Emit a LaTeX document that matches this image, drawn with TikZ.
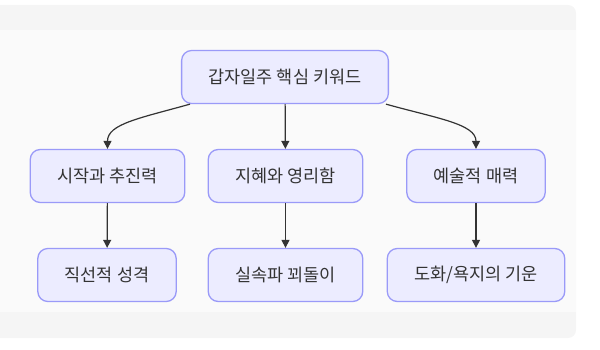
\documentclass[tikz,border=0pt]{standalone}
\usepackage{fontspec}
\setmainfont{Noto Sans CJK KR}
\usetikzlibrary{arrows.meta}
\definecolor{boxfill}{HTML}{ECECFF}
\definecolor{boxline}{HTML}{9A9AF8}
\definecolor{ink}{HTML}{333333}

\begin{document}
\begin{tikzpicture}[x=1pt,y=-1pt,
    keyword/.style={draw=boxline,fill=boxfill,line width=1.3pt,rounded corners=10pt,
        minimum height=53pt,inner xsep=27pt,text=ink,font=\fontsize{17.5}{21}\selectfont},
    link/.style={draw=ink,line width=1.2pt,-{Triangle[width=8pt,length=8pt]}}]
    % background
    \useasboundingbox (0,0) rectangle (600,350);
    \fill[black!4,rounded corners=8pt] (-10,5) rectangle (576,338);
    \fill[black!2] (0,30) rectangle (576,312);
    % nodes
    \node[keyword] (root) at (285,77) {갑자일주 핵심 키워드};
    \node[keyword] (start) at (107.5,176) {시작과 추진력};
    \node[keyword] (wisdom) at (285.5,176) {지혜와 영리함};
    \node[keyword] (art) at (476,176) {예술적 매력};
    \node[keyword] (direct) at (107,275) {직선적 성격};
    \node[keyword] (clever) at (285.5,275) {실속파 꾀돌이};
    \node[keyword] (charm) at (476,275) {도화/욕지의 기운};
    % links
    \draw[link] (root.south west) ++(9,0) .. controls +(-50,14) and +(0,-25) .. (start.north);
    \draw[link] (root) -- (wisdom);
    \draw[link] (root.south east) ++(-3,0) .. controls +(50,14) and +(0,-25) .. (art.north);
    \draw[link] (start) -- (direct);
    \draw[link] (wisdom) -- (clever);
    \draw[link] (art) -- (charm);
\end{tikzpicture}
\end{document}
